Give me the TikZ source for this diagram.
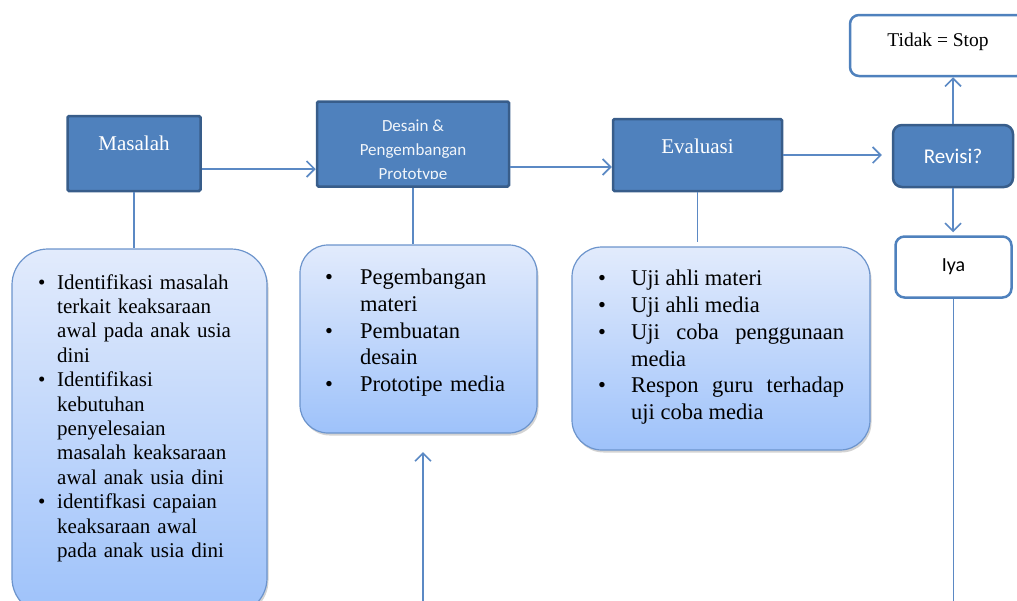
\documentclass[tikz,border=0pt]{standalone}
\usepackage{fontspec}
\setmainfont{Liberation Serif}
\newfontfamily\calibrifont{Carlito}
\usepackage{enumitem}
\usetikzlibrary{arrows.meta, shadows}
\definecolor{boxblue}{RGB}{79,129,189}
\definecolor{boxedge}{RGB}{56,93,138}
\definecolor{linkblue}{RGB}{91,137,196}
\definecolor{cardtop}{RGB}{226,235,252}
\definecolor{cardbottom}{RGB}{158,194,250}
\definecolor{cardedge}{RGB}{108,148,204}
\setlist[itemize]{label=\textbullet, align=left, itemsep=0pt, topsep=0pt, parsep=0pt, partopsep=0pt}
\hyphenpenalty=10000
\exhyphenpenalty=10000
\tolerance=10000

\begin{document}
\begin{tikzpicture}[x=1pt, y=-1pt, >={Straight Barb[length=8pt,width=16pt]},
    stepbox/.style={draw=boxedge, fill=boxblue, line width=2.5pt, rounded corners=1.5pt, inner sep=0pt, text=white},
    qbox/.style={draw=boxedge, fill=boxblue, line width=2.5pt, rounded corners=9pt, inner sep=0pt, text=white},
    ansbox/.style={draw=boxblue, fill=white, line width=2.5pt, rounded corners=9pt, inner sep=0pt},
    card/.style={draw=cardedge, line width=1.2pt, top color=cardtop, bottom color=cardbottom, drop shadow={opacity=0.35, shadow xshift=1.5pt, shadow yshift=-2.5pt}},
    cardtext/.style={anchor=north west, inner sep=0pt},
    link/.style={linkblue, line width=1.6pt}]
    \useasboundingbox (0,0) rectangle (1017,600);

    % Detail cards
    \node[card, minimum width=255pt, minimum height=365pt, rounded corners=36pt] at (139.5,431.5) (masalahcard) {};
    \node[card, minimum width=237pt, minimum height=188pt, rounded corners=28pt] at (418.5,339) (desaincard) {};
    \node[card, minimum width=298pt, minimum height=203pt, rounded corners=30pt] at (721,348.5) (evaluasicard) {};

    \node[cardtext, align=left, text width=230pt, font=\fontsize{21}{24.4}\selectfont] at (38,264.5) (masalahlist) {%
        \begin{itemize}[leftmargin=19pt, labelwidth=11pt, labelsep=8pt]
        \item Identifikasi masalah\newline terkait keaksaraan\newline awal pada anak usia\newline dini
        \item Identifikasi\newline kebutuhan\newline penyelesaian\newline masalah keaksaraan\newline awal anak usia dini
        \item identifkasi capaian\newline keaksaraan awal\newline pada anak usia dini
        \end{itemize}};
    \node[cardtext, align=left, text width=205pt, font=\fontsize{22.5}{26.6}\selectfont] at (325,258) (desainlist) {%
        \begin{itemize}[leftmargin=35pt, labelwidth=27pt, labelsep=8pt]
        \item Pegembangan\newline materi
        \item Pembuatan\newline desain
        \item Prototipe media
        \end{itemize}};
    \node[cardtext, align=justify, text width=246pt, font=\fontsize{22.5}{26.7}\selectfont] at (598,259) (evaluasilist) {%
        \begin{itemize}[leftmargin=33pt, labelwidth=25pt, labelsep=8pt]
        \item Uji ahli materi
        \item Uji ahli media
        \item Uji coba penggunaan media
        \item Respon guru terhadap uji coba media
        \end{itemize}};

    % Main steps
    \node[stepbox, minimum width=133pt, text height=34pt, text depth=41pt, font=\fontsize{21}{24}\selectfont] at (134,153.5) (masalah) {Masalah};
    \node[stepbox, minimum width=192pt, minimum height=85pt] at (413,144) (desain) {};
    \begin{scope}
        \clip ([shift={(2pt,-2pt)}]desain.north west) rectangle ([shift={(-2pt,9pt)}]desain.south east);
        \node[anchor=north, inner sep=0pt, align=center, text=white!92!boxblue, font=\calibrifont\fontsize{17}{24}\selectfont] at (413,120) (desaintext) {Desain \&\\Pengembangan\\Prototype};
    \end{scope}
    \node[stepbox, minimum width=169pt, text height=34pt, text depth=38pt, font=\fontsize{21}{24}\selectfont] at (697.5,155) (evaluasi) {Evaluasi};

    % Revisi decision
    \node[qbox, minimum width=120pt, minimum height=62pt, font=\calibrifont\fontsize{21}{24}\selectfont] at (953,156) (revisi) {Revisi?};
    \node[ansbox, minimum width=176pt, text height=31pt, text depth=30pt, font=\fontsize{19.5}{22}\selectfont] at (938,45.5) (tidak) {Tidak = Stop};
    \node[ansbox, minimum width=116pt, minimum height=61pt, font=\calibrifont\fontsize{20}{24}\selectfont] at (953.5,267) (iya) {Iya};

    % Connectors
    \draw[link] (masalah.south) -- (masalah.south |- masalahcard.north);
    \draw[link] (desain.south) -- (desain.south |- desaincard.north);
    \draw[link, shorten >=4pt] (evaluasi.south) -- (evaluasi.south |- evaluasicard.north);

    \coordinate (m1) at ([yshift=-15.5pt]masalah.east);
    \draw[link, ->] (m1) -- (m1 -| desain.west);
    \coordinate (d1) at ([yshift=-23pt]desain.east);
    \draw[link, ->] (d1) -- (d1 -| evaluasi.west);
    \draw[link, ->, shorten >=10pt] (evaluasi.east) -- (evaluasi.east -| revisi.west);
    \draw[link, ->] (revisi.north) -- (revisi.north |- tidak.south);
    \draw[link, ->, shorten >=3pt] (revisi.south) -- (revisi.south |- iya.north);
    \coordinate (iyafoot) at ([yshift=-320pt]iya.south);
    \draw[link] (iya.south) -- (iyafoot);

    % Arrow back into design card
    \coordinate (loopfoot) at (423,615);
    \coordinate (looptip) at (423,452);
    \draw[link, ->] (loopfoot) -- (looptip);

\end{tikzpicture}
\end{document}
